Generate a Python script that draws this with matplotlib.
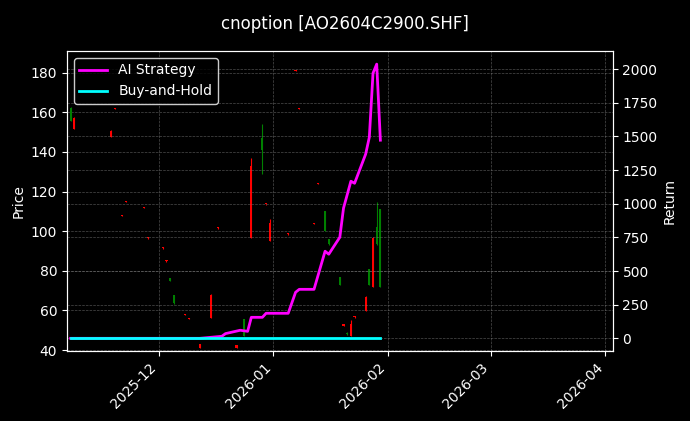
import matplotlib
matplotlib.use("Agg")
import matplotlib.pyplot as plt
import matplotlib.dates as mdates
import pandas as pd

# candles: date, open, high, low, close
c_dates = ["2025-11-07","2025-11-08","2025-11-18","2025-11-19","2025-11-21","2025-11-22","2025-11-27","2025-11-28",
           "2025-12-02","2025-12-03","2025-12-04","2025-12-05","2025-12-08","2025-12-09","2025-12-12","2025-12-15",
           "2025-12-17","2025-12-22","2025-12-24","2025-12-26","2025-12-29","2025-12-30","2025-12-31",
           "2026-01-05","2026-01-07","2026-01-08","2026-01-12","2026-01-13","2026-01-15","2026-01-16","2026-01-19",
           "2026-01-20","2026-01-21","2026-01-22","2026-01-23","2026-01-26","2026-01-27","2026-01-28","2026-01-29","2026-01-30"]
c_open  = [155.7,157.0,150.6,162.0,108.0,115.0,112.0,96.6, 91.5,85.0,75.0,63.7,58.0,56.0,43.0,68.0,
           101.6,42.5,47.0,133.0,141.0,113.7,104.0, 98.6,181.0,162.0,104.0,124.0,100.0,93.5,73.0,
           52.6,48.0,53.0,56.7,66.8,73.0,96.6,93.5,72.0]
c_high  = [162.7,157.5,151.0,162.3,108.3,115.3,112.3,96.9, 91.8,85.3,76.5,68.0,58.3,56.3,43.3,68.3,
           101.9,42.8,55.6,137.0,154.0,114.0,106.0, 98.9,181.3,162.3,104.3,124.3,110.0,96.0,77.0,
           52.9,49.0,55.0,57.0,67.5,81.0,97.0,115.0,111.0]
c_low   = [155.5,151.6,147.6,161.7,107.7,114.7,111.7,96.3, 91.2,84.7,75.0,63.5,57.7,55.7,41.0,56.0,
           101.3,41.0,47.0,96.6,129.0,113.4,95.0, 98.3,180.7,161.7,103.7,123.7,100.0,93.3,73.0,
           52.3,47.5,47.0,56.4,59.7,73.0,72.0,93.0,72.0]
c_close = [162.0,151.6,147.6,161.8,107.8,114.8,111.8,96.4, 91.3,84.8,76.2,68.0,57.8,55.8,41.0,56.0,
           101.4,41.0,55.6,96.6,147.0,113.5,95.0, 98.4,180.8,161.8,103.8,123.8,110.0,96.0,77.0,
           52.4,48.8,47.0,56.5,59.7,81.0,72.0,102.0,111.0]

r_dates = ["2025-11-07","2025-12-12","2025-12-18","2025-12-19","2025-12-23","2025-12-25","2025-12-26","2025-12-29",
           "2025-12-30","2026-01-05","2026-01-07","2026-01-08","2026-01-12","2026-01-15","2026-01-16","2026-01-19",
           "2026-01-20","2026-01-22","2026-01-23","2026-01-26","2026-01-27","2026-01-28","2026-01-29","2026-01-30"]
ai_ret = [0,0,15,35,60,52,156,156,186,186,342,364,364,647,625,751,967,1167,1152,1368,1494,1970,2037,1472]
bh_ret = [0]*len(r_dates)

plt.rcParams['font.family'] = ['DejaVu Sans']
fig = plt.figure(figsize=(6.9, 4.21), dpi=100, facecolor='black')
ax = fig.add_axes([0.097, 0.166, 0.791, 0.713], facecolor='black')
ax2 = ax.twinx()

cd = pd.to_datetime(c_dates)
for d, o, h, l, c in zip(cd, c_open, c_high, c_low, c_close):
    col = 'green' if c >= o else 'red'
    ax.vlines(d, l, h, color=col, linewidth=0.8)
    ax.bar(d, abs(c - o) if abs(c - o) > 0.3 else 0.6, bottom=min(o, c), width=0.6, color=col)

rd = pd.to_datetime(r_dates)
ax2.plot(rd, ai_ret, color='#ff00ff', linewidth=2, label='AI Strategy')
ax2.plot(rd, bh_ret, color='cyan', linewidth=2, label='Buy-and-Hold')

ax.set_ylim(39.5, 191)
ax2.set_ylim(-95, 2135)
ax.set_xlim(pd.Timestamp("2025-11-06"), pd.Timestamp("2026-04-03"))
ax.xaxis.set_major_locator(mdates.MonthLocator())
ax.xaxis.set_major_formatter(mdates.DateFormatter('%Y-%m'))
for lab in ax.get_xticklabels():
    lab.set_rotation(45); lab.set_ha('right')
ax.set_yticks(range(40, 181, 20))
ax2.set_yticks(range(0, 2001, 250))

for a in (ax, ax2):
    a.tick_params(colors='white', labelsize=10)
    for s in a.spines.values():
        s.set_color('white')
ax.grid(True, color='gray', linestyle='--', linewidth=0.5, alpha=0.6)
ax2.grid(True, color='gray', linestyle='--', linewidth=0.5, alpha=0.6)
ax.set_ylabel('Price', color='white')
ax2.set_ylabel('Return', color='white')
fig.suptitle('cnoption [AO2604C2900.SHF]', color='white', fontsize=12, y=0.965)
leg = ax2.legend(loc='upper left', facecolor='black', edgecolor='white', fontsize=10)
for t in leg.get_texts():
    t.set_color('white')
fig.savefig('out.png', dpi=100, facecolor='black')
